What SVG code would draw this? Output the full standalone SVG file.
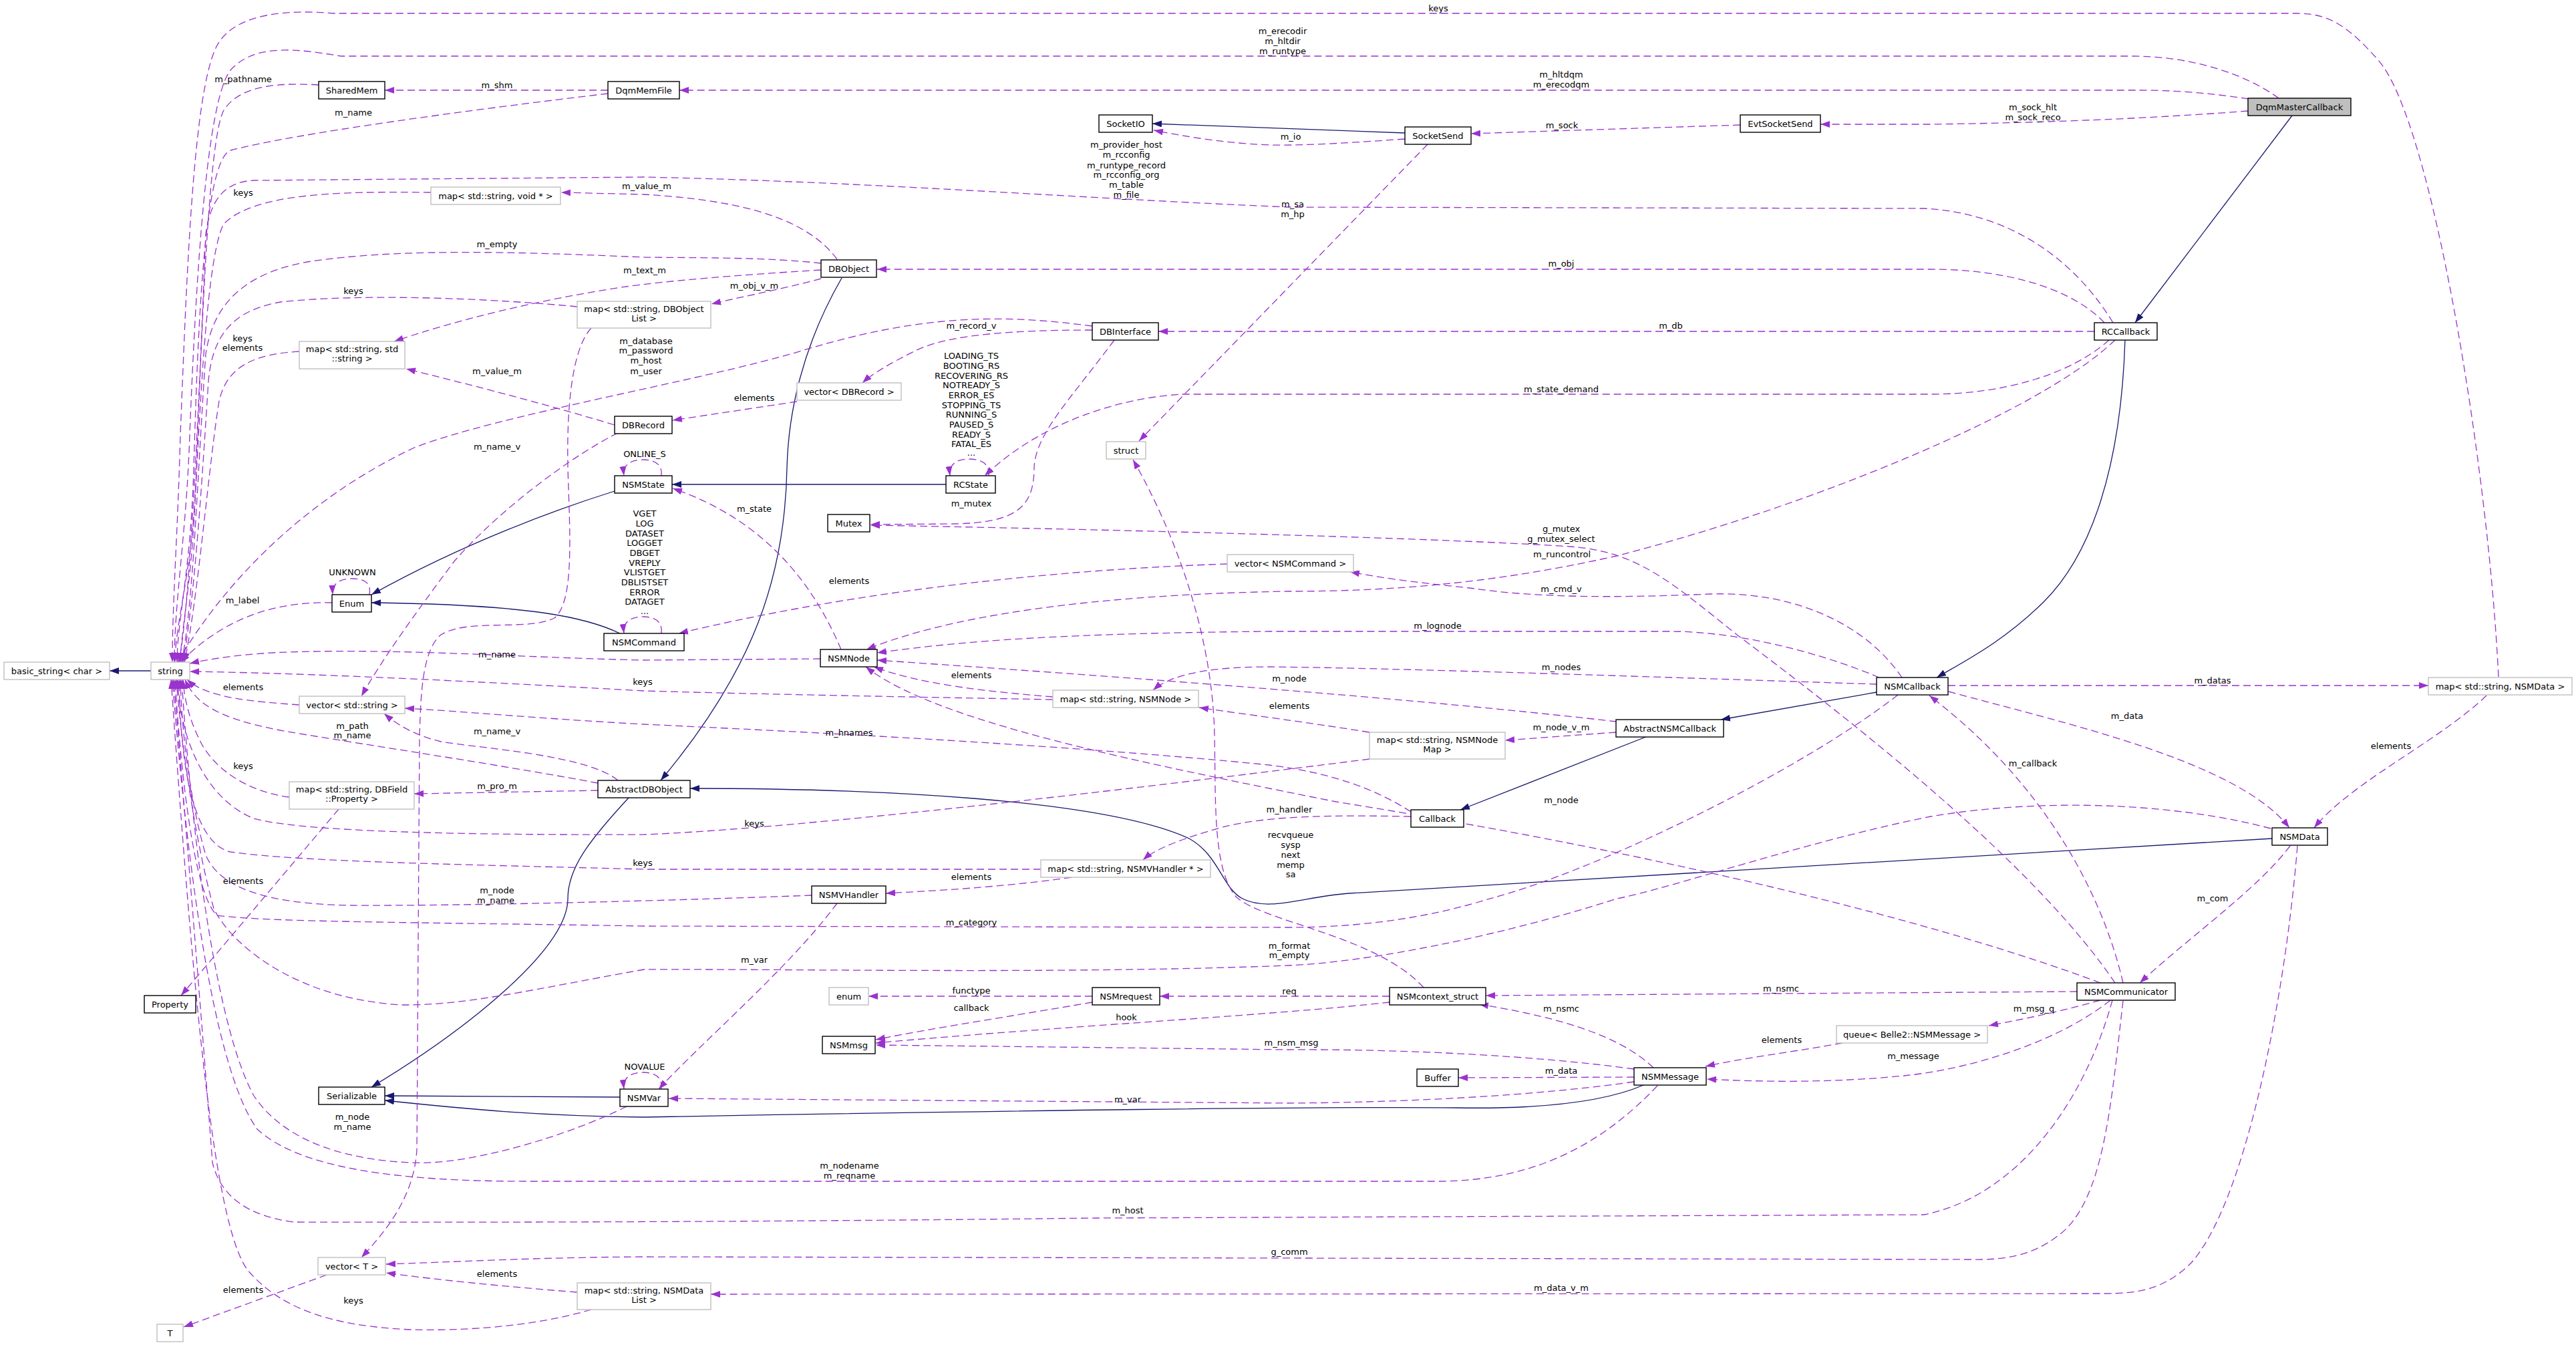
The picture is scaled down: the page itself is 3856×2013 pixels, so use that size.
<svg xmlns="http://www.w3.org/2000/svg" width="3856" height="2013" viewBox="0 0 3856 2013">
<style>
text{font-family:"DejaVu Sans","Liberation Sans",sans-serif;font-size:13px;fill:#000;text-anchor:middle}
.node rect{fill:#fff;stroke:#000;stroke-width:1.4}
.node.u rect{stroke:#bfbfbf}
.node.g rect{fill:#bfbfbf}
.d path{fill:none;stroke:#9a32cd;stroke-width:1.3;stroke-dasharray:11,6;marker-end:url(#ah)}
.s path{fill:none;stroke:#191970;stroke-width:1.3;marker-end:url(#ab)}
</style>
<defs>
<marker id="ah" viewBox="0 0 14 10" refX="14" refY="5" markerWidth="14" markerHeight="10" markerUnits="userSpaceOnUse" orient="auto"><path d="M0,0L14,5L0,10z" fill="#9a32cd" stroke="none"/></marker>
<marker id="ab" viewBox="0 0 14 10" refX="14" refY="5" markerWidth="14" markerHeight="10" markerUnits="userSpaceOnUse" orient="auto"><path d="M0,0L14,5L0,10z" fill="#191970" stroke="none"/></marker>
</defs>
<rect width="3856" height="2013" fill="#fff"/>
<g id="connectors">
<g class="s">
<path d="M3431,173 L3196,483"/>
<path d="M3181,508 C3175,700 3130,830 3060,900 C3000,960 2940,990 2899,1014"/>
<path d="M2809,1036 L2576,1077"/>
<path d="M2466,1102 L2186,1212"/>
<path d="M2103,199 L1725,185"/>
<path d="M1416,725 L1006,725"/>
<path d="M920,735 C840,760 700,810 556,890"/>
<path d="M928,948 C880,925 800,905 556,902"/>
<path d="M1260,416 C1200,520 1180,620 1178,700 C1175,860 1130,1000 989,1168"/>
<path d="M3401,1255 L2020,1337 C1950,1342 1900,1365 1860,1345 C1830,1330 1825,1280 1780,1255 C1650,1195 1300,1180 1033,1180"/>
<path d="M941,1194 C880,1260 850,1300 850,1345 C850,1420 700,1540 556,1627"/>
<path d="M928,1642 L576,1640"/>
<path d="M2460,1624 C2400,1650 2300,1660 2180,1658 C2000,1656 1500,1662 964,1672 C800,1670 700,1660 576,1647"/>
<path d="M226,1004 L164,1004"/>
</g>
<g class="d">
<path d="M3740,1013 C3725,700 3640,180 3560,90 C3520,45 3490,20 3440,20 L500,20 C430,14 360,20 330,60 C290,110 280,400 270,650 C266,800 258,900 258,991"/>
<path d="M3411,147 C3360,110 3280,84 3190,84 L510,84 C440,72 380,66 345,105 C310,150 294,400 284,650 C279,800 261,900 261,991"/>
<path d="M3366,148 C3300,138 3250,135 3200,135 L1017,135"/>
<path d="M3365,166 C3250,175 3100,183 2892,186 L2725,186"/>
<path d="M2605,187 L2202,200"/>
<path d="M2103,208 C2030,213 1960,218 1900,217 C1830,214 1780,205 1727,195"/>
<path d="M2137,216 L1705,660"/>
<path d="M910,135 L576,135"/>
<path d="M910,140 C700,165 440,200 345,225 C305,240 296,500 290,700 C286,850 265,930 265,991"/>
<path d="M477,127 C420,124 360,126 335,165 C312,205 302,500 294,700 C290,850 262,930 262,991"/>
<path d="M3163,483 C3100,380 3000,318 2880,312 L1928,310 C1600,296 1300,272 964,265 L380,270 C335,272 315,300 308,350 C298,600 285,900 268,991"/>
<path d="M1253,388 C1210,330 1120,300 964,291 L840,288"/>
<path d="M645,288 C500,286 380,290 335,335 C310,380 300,600 292,750 C286,880 270,950 270,991"/>
<path d="M1229,394 C1150,385 1050,386 964,385 C800,378 600,370 460,392 C360,410 318,460 308,530 C296,700 290,900 272,991"/>
<path d="M1229,404 C1100,412 1000,420 930,430 C800,450 680,480 590,511"/>
<path d="M1229,417 C1170,433 1110,444 1065,455"/>
<path d="M864,459 C750,448 550,438 420,452 C345,465 318,505 312,570 C300,760 290,900 274,991"/>
<path d="M448,526 C380,530 340,548 328,600 C312,700 296,900 276,991"/>
<path d="M920,636 C800,600 700,575 608,552"/>
<path d="M1635,488 C1500,470 1380,470 1200,525 C1050,570 750,620 620,670 C450,750 330,880 266,991"/>
<path d="M1635,494 C1520,494 1420,500 1370,525 C1330,545 1305,560 1291,573"/>
<path d="M1193,601 L1007,629"/>
<path d="M1668,509 C1600,600 1550,650 1548,700 C1548,760 1520,782 1430,784 L1303,785"/>
<path d="M3150,483 C3100,430 3000,403 2890,403 L1313,403"/>
<path d="M3135,496 L1734,496"/>
<path d="M3157,509 C3100,560 3000,590 2890,590 L1770,590 C1680,595 1560,630 1474,712"/>
<path d="M3166,509 C3050,620 2700,760 2420,832 C2250,870 2100,885 1928,885 C1700,889 1450,910 1297,972"/>
<path d="M1837,844 C1600,852 1300,880 1016,948"/>
<path d="M2847,1014 C2790,930 2680,885 2560,889 C2420,895 2300,895 2200,880 C2100,870 2060,863 2021,856"/>
<path d="M1259,972 C1220,880 1150,780 1007,731"/>
<path d="M1228,986 L964,988 C800,985 600,970 430,976 C370,978 320,985 284,993"/>
<path d="M1576,1043 C1480,1035 1380,1025 1308,998"/>
<path d="M1576,1047 C1300,1042 1100,1038 964,1034 C800,1025 500,1008 284,1005"/>
<path d="M2813,1014 C2720,975 2600,945 2500,945 L1900,945 C1600,948 1450,958 1313,977"/>
<path d="M2809,1024 C2500,1014 2100,1000 1900,998 C1800,998 1750,1012 1726,1033"/>
<path d="M2420,1080 C2200,1055 1900,1028 1313,988"/>
<path d="M2916,1026 L3635,1026"/>
<path d="M2917,1035 C3100,1085 3350,1140 3427,1239"/>
<path d="M3722,1041 C3650,1110 3520,1170 3464,1239"/>
<path d="M2419,1096 L2253,1108"/>
<path d="M2050,1096 C1950,1080 1870,1070 1795,1059"/>
<path d="M2050,1136 C1700,1180 1200,1240 964,1249 C700,1250 450,1245 380,1225 C305,1195 268,1100 266,1017"/>
<path d="M2112,1215 C2050,1175 1980,1155 1900,1145 C1600,1115 1200,1095 964,1084 C800,1075 700,1065 606,1060"/>
<path d="M2112,1222 C2000,1220 1900,1220 1830,1238 C1770,1255 1730,1270 1711,1287"/>
<path d="M3144,1471 C2900,1380 2500,1280 2000,1200 C1700,1140 1400,1080 1296,998"/>
<path d="M1604,1313 C1500,1328 1400,1333 1326,1337"/>
<path d="M1558,1301 L964,1301 C700,1294 450,1290 345,1275 C290,1262 270,1150 268,1017"/>
<path d="M1215,1340 C1000,1348 700,1356 520,1355 C400,1352 330,1330 308,1280 C285,1200 272,1100 270,1017"/>
<path d="M1253,1352 C1180,1450 1050,1560 986,1630"/>
<path d="M895,1172 C750,1145 550,1115 430,1095 C340,1078 295,1060 277,1017"/>
<path d="M925,1168 C880,1130 720,1120 660,1110 C620,1100 595,1085 575,1068"/>
<path d="M895,1183 L620,1188"/>
<path d="M433,1193 C370,1185 320,1150 300,1110 C285,1080 276,1050 274,1017"/>
<path d="M507,1211 L271,1490"/>
<path d="M2841,1040 C2700,1150 2400,1300 2230,1345 C2150,1370 2050,1388 1928,1388 L964,1386 C600,1380 400,1380 325,1370 C290,1340 270,1150 262,1017"/>
<path d="M3399,1240 C3250,1200 3050,1195 2890,1222 C2700,1260 2500,1330 2420,1345 C2250,1400 2050,1440 1928,1445 C1600,1458 1200,1450 964,1451 C800,1480 700,1505 600,1504 C450,1495 350,1420 320,1360 C290,1250 270,1100 264,1017"/>
<path d="M938,1656 C850,1700 700,1745 615,1740 C500,1735 420,1700 380,1640 C330,1550 290,1300 272,1017"/>
<path d="M2481,1625 C2400,1710 2300,1768 2150,1768 L790,1768 C600,1768 450,1750 385,1690 C320,1600 280,1300 258,1017"/>
<path d="M3162,1497 C3120,1650 3020,1790 2880,1818 L1640,1823 C1300,1827 900,1830 440,1829 C370,1820 330,1790 318,1740 C300,1500 275,1200 260,1017"/>
<path d="M3178,1498 C3160,1650 3150,1800 3080,1850 C3040,1880 3000,1886 2950,1885 L964,1881 C800,1882 700,1888 578,1892"/>
<path d="M864,1934 C750,1925 650,1915 578,1905"/>
<path d="M885,1960 C800,1985 700,1992 615,1990 C500,1985 420,1960 370,1900 C320,1830 290,1500 256,1017"/>
<path d="M489,1908 L275,1986"/>
<path d="M3439,1266 C3420,1500 3360,1800 3280,1890 C3240,1930 3200,1936 3150,1936 L1064,1937"/>
<path d="M3428,1266 C3380,1330 3280,1400 3203,1471"/>
<path d="M3178,1471 C3150,1350 3070,1180 2888,1041"/>
<path d="M3166,1471 C3050,1300 2800,1100 2600,950 C2500,870 2450,825 2350,818 C2200,808 1800,795 1303,786"/>
<path d="M3109,1484 L2224,1490"/>
<path d="M2475,1598 C2430,1555 2350,1525 2214,1503"/>
<path d="M2080,1491 L1736,1491"/>
<path d="M2080,1500 C1900,1520 1600,1535 1311,1561"/>
<path d="M1635,1491 L1300,1491"/>
<path d="M1635,1500 C1520,1520 1400,1538 1311,1556"/>
<path d="M2446,1600 C2300,1580 2100,1570 1928,1571 L1311,1564"/>
<path d="M2131,1478 C2060,1400 1890,1380 1850,1342 C1815,1300 1820,1200 1818,1100 C1815,950 1760,800 1696,688"/>
<path d="M2446,1612 L2183,1613"/>
<path d="M2446,1619 C2300,1640 2100,1650 1928,1651 L1001,1644"/>
<path d="M3144,1497 C3080,1515 3030,1525 2977,1535"/>
<path d="M3159,1497 C3080,1560 2950,1600 2850,1610 C2750,1620 2650,1620 2555,1615"/>
<path d="M2758,1561 C2680,1575 2600,1585 2553,1596"/>
<path d="M448,1055 C380,1050 310,1045 280,1017"/>
<path d="M497,902 C420,900 340,920 270,991"/>
<path d="M925,648 C860,680 750,760 680,840 C620,920 570,990 541,1042"/>
<path d="M885,491 C858,520 848,600 850,700 C853,800 860,900 830,925 C790,945 700,925 660,950 C630,975 630,1050 628,1100 L624,1720 C620,1790 580,1840 541,1882"/>
<path d="M1480,712 C1482,692 1466,687 1450,687 C1432,687 1420,695 1422,712"/>
<path d="M990,712 C992,695 980,688 963,688 C945,688 932,695 934,712"/>
<path d="M990,948 C992,930 980,923 963,923 C945,923 932,930 934,948"/>
<path d="M553,890 C556,872 545,866 527,866 C510,866 497,872 498,890"/>
<path d="M990,1630 C992,1612 980,1605 963,1605 C945,1605 932,1612 934,1630"/>
</g>
<g id="edge-labels">
<text x="2153" y="16.5">keys</text>
<text x="1920" y="50.5">m_erecodir</text><text x="1920" y="65.5">m_hltdir</text><text x="1920" y="80.5">m_runtype</text>
<text x="2337" y="115.5">m_hltdqm</text><text x="2337" y="130.5">m_erecodqm</text>
<text x="3043" y="164.5">m_sock_hlt</text><text x="3043" y="179.5">m_sock_reco</text>
<text x="2338" y="191.5">m_sock</text>
<text x="1932" y="209">m_io</text>
<text x="1935" y="309.5">m_sa</text><text x="1935" y="324.5">m_hp</text>
<text x="744" y="131.5">m_shm</text>
<text x="529" y="172.5">m_name</text>
<text x="364" y="123">m_pathname</text>
<text x="1686" y="220.5">m_provider_host</text><text x="1686" y="236">m_rcconfig</text><text x="1686" y="251.5">m_runtype_record</text><text x="1686" y="265.5">m_rcconfig_org</text><text x="1686" y="280.5">m_table</text><text x="1686" y="295.5">m_file</text>
<text x="968" y="282.5">m_value_m</text>
<text x="364" y="293">keys</text>
<text x="744" y="369.5">m_empty</text>
<text x="965" y="409">m_text_m</text>
<text x="1129" y="431.5">m_obj_v_m</text>
<text x="529" y="439.5">keys</text>
<text x="363" y="511">keys</text><text x="363" y="525">elements</text>
<text x="744" y="560">m_value_m</text>
<text x="967" y="514.5">m_database</text><text x="967" y="529">m_password</text><text x="967" y="543.5">m_host</text><text x="967" y="559.5">m_user</text>
<text x="1454" y="491.5">m_record_v</text>
<text x="1129" y="599.5">elements</text>
<text x="1454" y="757.5">m_mutex</text>
<text x="2337" y="398.5">m_obj</text>
<text x="2501" y="491.5">m_db</text>
<text x="2337" y="586.5">m_state_demand</text>
<text x="2338" y="833.5">m_runcontrol</text>
<text x="1271" y="873.5">elements</text>
<text x="2337" y="885.5">m_cmd_v</text>
<text x="1129" y="765.5">m_state</text>
<text x="744" y="983.5">m_name</text>
<text x="1454" y="1014.5">elements</text>
<text x="962" y="1024.5">keys</text>
<text x="2152" y="940.5">m_lognode</text>
<text x="2337" y="1003">m_nodes</text>
<text x="1930" y="1019.5">m_node</text>
<text x="3312" y="1023">m_datas</text>
<text x="3184" y="1075.5">m_data</text>
<text x="3579" y="1121">elements</text>
<text x="2337" y="1093">m_node_v_m</text>
<text x="1930" y="1060.5">elements</text>
<text x="1129" y="1236.5">keys</text>
<text x="1271" y="1100.5">m_hnames</text>
<text x="1930" y="1215.5">m_handler</text>
<text x="2337" y="1201.5">m_node</text>
<text x="1454" y="1316.5">elements</text>
<text x="962" y="1296">keys</text>
<text x="744" y="1336.5">m_node</text><text x="742" y="1351.5">m_name</text>
<text x="1129" y="1441">m_var</text>
<text x="527.5" y="1091">m_path</text><text x="527.5" y="1105">m_name</text>
<text x="744" y="1099">m_name_v</text>
<text x="744" y="1180.5">m_pro_m</text>
<text x="364" y="1151">keys</text>
<text x="364" y="1323">elements</text>
<text x="1454" y="1385">m_category</text>
<text x="1930" y="1419.5">m_format</text><text x="1930" y="1433.5">m_empty</text>
<text x="527.5" y="1676">m_node</text><text x="527.5" y="1691">m_name</text>
<text x="1271.5" y="1749">m_nodename</text><text x="1271.5" y="1764">m_reqname</text>
<text x="1688" y="1816">m_host</text>
<text x="1930" y="1877.5">g_comm</text>
<text x="744" y="1910.5">elements</text>
<text x="529" y="1950.5">keys</text>
<text x="364" y="1935">elements</text>
<text x="2337" y="1932">m_data_v_m</text>
<text x="3312" y="1348.5">m_com</text>
<text x="3043" y="1147">m_callback</text>
<text x="2337" y="796">g_mutex</text><text x="2337" y="811">g_mutex_select</text>
<text x="2666" y="1483.5">m_nsmc</text>
<text x="2337" y="1513.5">m_nsmc</text>
<text x="1930" y="1487.5">req</text>
<text x="1686" y="1526.5">hook</text>
<text x="1454" y="1486.5">functype</text>
<text x="1454" y="1513">callback</text>
<text x="1933" y="1564.5">m_nsm_msg</text>
<text x="1932" y="1253.5">recvqueue</text><text x="1932" y="1268.5">sysp</text><text x="1932" y="1283.5">next</text><text x="1932" y="1298.5">memp</text><text x="1932" y="1312.5">sa</text>
<text x="2337" y="1607">m_data</text>
<text x="1688" y="1649.5">m_var</text>
<text x="3044.5" y="1513.5">m_msg_q</text>
<text x="2864" y="1584.5">m_message</text>
<text x="2667" y="1560.5">elements</text>
<text x="364" y="1033">elements</text>
<text x="363" y="902.5">m_label</text>
<text x="744" y="672.5">m_name_v</text>
<text x="1454" y="537">LOADING_TS</text><text x="1454" y="552">BOOTING_RS</text><text x="1454" y="567">RECOVERING_RS</text><text x="1454" y="581">NOTREADY_S</text><text x="1454" y="596">ERROR_ES</text><text x="1454" y="611">STOPPING_TS</text><text x="1454" y="625">RUNNING_S</text><text x="1454" y="640">PAUSED_S</text><text x="1454" y="655">READY_S</text><text x="1454" y="669">FATAL_ES</text><text x="1454" y="682">...</text>
<text x="965" y="684">ONLINE_S</text>
<text x="965" y="773">VGET</text><text x="965" y="788">LOG</text><text x="965" y="803">DATASET</text><text x="965" y="817">LOGGET</text><text x="965" y="832">DBGET</text><text x="965" y="847">VREPLY</text><text x="965" y="861">VLISTGET</text><text x="965" y="876">DBLISTSET</text><text x="965" y="890.5">ERROR</text><text x="965" y="905">DATAGET</text><text x="965" y="919">...</text>
<text x="527.5" y="860.5">UNKNOWN</text>
<text x="965" y="1601">NOVALUE</text>
</g>
</g>
<g id="nodes">
<g id="DqmMasterCallback" class="node g"><rect x="3365" y="147" width="154" height="26"/><text x="3442" y="164.5">DqmMasterCallback</text></g>
<g id="RCCallback" class="node"><rect x="3135" y="483" width="94" height="26"/><text x="3182" y="500.5">RCCallback</text></g>
<g id="SocketIO" class="node"><rect x="1645" y="172" width="80" height="26"/><text x="1685" y="189.5">SocketIO</text></g>
<g id="SocketSend" class="node"><rect x="2103" y="190" width="99" height="26"/><text x="2152.5" y="207.5">SocketSend</text></g>
<g id="EvtSocketSend" class="node"><rect x="2605" y="172" width="120" height="26"/><text x="2665" y="189.5">EvtSocketSend</text></g>
<g id="DqmMemFile" class="node"><rect x="910" y="122" width="107" height="26"/><text x="963.5" y="139.5">DqmMemFile</text></g>
<g id="SharedMem" class="node"><rect x="477" y="122" width="99" height="26"/><text x="526.5" y="139.5">SharedMem</text></g>
<g id="map_void" class="node u"><rect x="645" y="280" width="194" height="26"/><text x="742" y="297.5">map&lt; std::string, void * &gt;</text></g>
<g id="DBObject" class="node"><rect x="1229" y="389" width="83" height="26"/><text x="1270.5" y="406.5">DBObject</text></g>
<g id="map_DBObjectList" class="node u"><rect x="864" y="451" width="200" height="40"/><text x="964" y="466.5">map&lt; std::string, DBObject</text><text x="964" y="481">List &gt;</text></g>
<g id="map_string_string" class="node u"><rect x="448" y="511" width="158" height="41"/><text x="527" y="526.5">map&lt; std::string, std</text><text x="527" y="541">::string &gt;</text></g>
<g id="DBInterface" class="node"><rect x="1635" y="483" width="99" height="26"/><text x="1684.5" y="500.5">DBInterface</text></g>
<g id="vector_DBRecord" class="node u"><rect x="1193" y="573" width="156" height="26"/><text x="1271" y="590.5">vector&lt; DBRecord &gt;</text></g>
<g id="DBRecord" class="node"><rect x="920" y="623" width="86" height="26"/><text x="963" y="640.5">DBRecord</text></g>
<g id="struct" class="node u"><rect x="1656" y="661" width="59" height="26"/><text x="1685.5" y="678.5">struct</text></g>
<g id="NSMState" class="node"><rect x="920" y="712" width="86" height="26"/><text x="963" y="729.5">NSMState</text></g>
<g id="RCState" class="node"><rect x="1416" y="712" width="74" height="26"/><text x="1453" y="729.5">RCState</text></g>
<g id="Mutex" class="node"><rect x="1239" y="770" width="63" height="26"/><text x="1270.5" y="787.5">Mutex</text></g>
<g id="Enum" class="node"><rect x="497" y="890" width="59" height="26"/><text x="526.5" y="907.5">Enum</text></g>
<g id="NSMCommand" class="node"><rect x="904" y="948" width="120" height="26"/><text x="964" y="965.5">NSMCommand</text></g>
<g id="vector_NSMCommand" class="node u"><rect x="1837" y="830" width="189" height="26"/><text x="1931.5" y="847.5">vector&lt; NSMCommand &gt;</text></g>
<g id="NSMNode" class="node"><rect x="1228" y="972" width="85" height="26"/><text x="1270.5" y="989.5">NSMNode</text></g>
<g id="basic_string" class="node u"><rect x="6" y="991" width="158" height="26"/><text x="85" y="1008.5">basic_string&lt; char &gt;</text></g>
<g id="string" class="node u"><rect x="226" y="991" width="58" height="26"/><text x="255" y="1008.5">string</text></g>
<g id="vector_string" class="node u"><rect x="448" y="1042" width="158" height="26"/><text x="527" y="1059.5">vector&lt; std::string &gt;</text></g>
<g id="map_NSMNode" class="node u"><rect x="1576" y="1033" width="218" height="26"/><text x="1685" y="1050.5">map&lt; std::string, NSMNode &gt;</text></g>
<g id="NSMCallback" class="node"><rect x="2809" y="1014" width="107" height="26"/><text x="2862.5" y="1031.5">NSMCallback</text></g>
<g id="map_NSMData" class="node u"><rect x="3635" y="1014" width="215" height="26"/><text x="3742.5" y="1031.5">map&lt; std::string, NSMData &gt;</text></g>
<g id="AbstractNSMCallback" class="node"><rect x="2419" y="1077" width="161" height="26"/><text x="2499.5" y="1094.5">AbstractNSMCallback</text></g>
<g id="map_NSMNodeMap" class="node u"><rect x="2050" y="1096" width="203" height="40"/><text x="2151.5" y="1111.5">map&lt; std::string, NSMNode</text><text x="2151.5" y="1126">Map &gt;</text></g>
<g id="map_DBField" class="node u"><rect x="433" y="1170" width="187" height="41"/><text x="526.5" y="1185.5">map&lt; std::string, DBField</text><text x="526.5" y="1200">::Property &gt;</text></g>
<g id="AbstractDBObject" class="node"><rect x="895" y="1168" width="138" height="26"/><text x="964" y="1185.5">AbstractDBObject</text></g>
<g id="Callback" class="node"><rect x="2112" y="1212" width="79" height="26"/><text x="2151.5" y="1229.5">Callback</text></g>
<g id="NSMData" class="node"><rect x="3401" y="1239" width="83" height="26"/><text x="3442.5" y="1256.5">NSMData</text></g>
<g id="map_NSMVHandler" class="node u"><rect x="1558" y="1287" width="254" height="26"/><text x="1685" y="1304.5">map&lt; std::string, NSMVHandler * &gt;</text></g>
<g id="NSMVHandler" class="node"><rect x="1215" y="1326" width="111" height="26"/><text x="1270.5" y="1343.5">NSMVHandler</text></g>
<g id="enum" class="node u"><rect x="1241" y="1478" width="59" height="26"/><text x="1270.5" y="1495.5">enum</text></g>
<g id="NSMrequest" class="node"><rect x="1635" y="1478" width="101" height="26"/><text x="1685.5" y="1495.5">NSMrequest</text></g>
<g id="NSMcontext_struct" class="node"><rect x="2080" y="1478" width="144" height="26"/><text x="2152" y="1495.5">NSMcontext_struct</text></g>
<g id="NSMCommunicator" class="node"><rect x="3109" y="1471" width="147" height="26"/><text x="3182.5" y="1488.5">NSMCommunicator</text></g>
<g id="Property" class="node"><rect x="216" y="1490" width="77" height="26"/><text x="254.5" y="1507.5">Property</text></g>
<g id="NSMmsg" class="node"><rect x="1231" y="1551" width="79" height="26"/><text x="1270.5" y="1568.5">NSMmsg</text></g>
<g id="queue_NSMMessage" class="node u"><rect x="2749" y="1535" width="226" height="26"/><text x="2862" y="1552.5">queue&lt; Belle2::NSMMessage &gt;</text></g>
<g id="NSMMessage" class="node"><rect x="2446" y="1598" width="108" height="26"/><text x="2500" y="1615.5">NSMMessage</text></g>
<g id="Buffer" class="node"><rect x="2121" y="1600" width="62" height="26"/><text x="2152" y="1617.5">Buffer</text></g>
<g id="Serializable" class="node"><rect x="477" y="1627" width="99" height="26"/><text x="526.5" y="1644.5">Serializable</text></g>
<g id="NSMVar" class="node"><rect x="928" y="1630" width="72" height="26"/><text x="964" y="1647.5">NSMVar</text></g>
<g id="vector_T" class="node u"><rect x="476" y="1882" width="101" height="26"/><text x="526.5" y="1899.5">vector&lt; T &gt;</text></g>
<g id="map_NSMDataList" class="node u"><rect x="864" y="1920" width="200" height="40"/><text x="964" y="1935.5">map&lt; std::string, NSMData</text><text x="964" y="1950">List &gt;</text></g>
<g id="T" class="node u"><rect x="235" y="1982" width="39" height="26"/><text x="254.5" y="1999.5">T</text></g>
</g>
</svg>
